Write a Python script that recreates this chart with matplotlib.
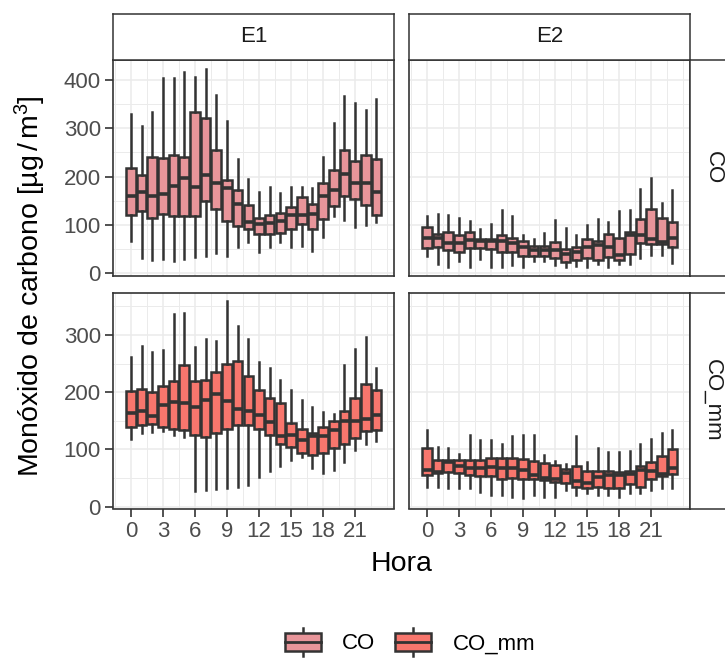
import numpy as np
import matplotlib
matplotlib.use("Agg")
import matplotlib.pyplot as plt
from matplotlib.patches import Patch, Rectangle
from matplotlib.lines import Line2D
from matplotlib.legend_handler import HandlerBase
from matplotlib.ticker import FixedLocator, MultipleLocator

plt.rcParams['font.family'] = ['Liberation Sans', 'DejaVu Sans']
plt.rcParams['mathtext.fontset'] = 'custom'
plt.rcParams['mathtext.rm'] = 'Liberation Sans'
plt.rcParams['mathtext.it'] = 'Liberation Sans:italic'

horas = np.arange(24)
estaciones = ['E1', 'E2']
variables = ['CO', 'CO_mm']
colores = {'CO': '#E8959A', 'CO_mm': '#F8766D'}
BORDE = '#333333'
LW = 1.8

# --- CO, estación E1 (bigotes, cuartiles y mediana por hora) ---
e1_co_min = [66, 31, 26, 28, 24, 29, 33, 35, 41, 35, 54, 63, 43, 54, 63, 54, 56, 45, 74, 118, 109, 95, 100, 106]
e1_co_q1 = [120, 128, 114, 122, 118, 118, 118, 149, 132, 108, 97, 92, 81, 81, 83, 90, 102, 90, 111, 138, 159, 153, 141, 121]
e1_co_med = [160, 168, 160, 163, 181, 196, 179, 203, 187, 177, 142, 106, 102, 104, 108, 121, 121, 122, 160, 173, 205, 186, 187, 167]
e1_co_q3 = [217, 203, 240, 239, 244, 241, 335, 321, 256, 193, 172, 141, 114, 120, 125, 137, 158, 142, 186, 214, 255, 233, 245, 236]
e1_co_max = [330, 305, 335, 404, 404, 417, 406, 424, 370, 315, 237, 195, 167, 179, 165, 179, 179, 177, 240, 311, 367, 353, 339, 361]

# --- CO, estación E2 ---
e2_co_min = [35, 19, 13, 24, 13, 29, 13, 13, 17, 12, 24, 24, 17, 13, 15, 13, 19, 13, 19, 19, 31, 36, 36, 20]
e2_co_q1 = [51, 54, 47, 43, 51, 52, 50, 43, 43, 34, 35, 35, 31, 22, 26, 31, 26, 33, 27, 40, 61, 59, 59, 54]
e2_co_med = [72, 72, 62, 62, 69, 66, 67, 67, 61, 54, 48, 48, 48, 40, 43, 54, 57, 54, 38, 79, 79, 71, 65, 72]
e2_co_q3 = [95, 81, 85, 79, 85, 70, 70, 79, 72, 66, 56, 56, 63, 50, 54, 70, 67, 81, 73, 85, 111, 132, 114, 106]
e2_co_max = [118, 123, 120, 114, 107, 90, 102, 130, 118, 79, 71, 83, 109, 93, 78, 100, 111, 106, 129, 130, 175, 196, 146, 173]

# --- CO_mm, estación E1 ---
e1_mm_min = [118, 129, 130, 132, 126, 122, 28, 30, 31, 32, 35, 38, 52, 62, 71, 81, 87, 67, 59, 65, 78, 99, 109, 114]
e1_mm_q1 = [139, 143, 145, 139, 135, 134, 125, 122, 128, 136, 143, 143, 136, 125, 110, 104, 93, 91, 93, 103, 110, 120, 132, 134]
e1_mm_med = [163, 167, 159, 177, 183, 181, 174, 187, 197, 185, 171, 168, 161, 148, 123, 125, 117, 124, 123, 134, 149, 150, 153, 161]
e1_mm_q3 = [202, 206, 200, 210, 219, 248, 220, 222, 235, 250, 255, 229, 203, 190, 182, 146, 136, 129, 139, 149, 168, 190, 214, 203]
e1_mm_max = [261, 281, 271, 274, 337, 339, 279, 293, 290, 359, 315, 293, 253, 243, 221, 203, 186, 175, 165, 162, 248, 275, 296, 242]

# --- CO_mm, estación E2 ---
e2_mm_min = [34, 35, 32, 32, 32, 26, 20, 20, 17, 16, 20, 17, 17, 29, 20, 24, 20, 20, 17, 24, 24, 30, 32, 33]
e2_mm_q1 = [56, 59, 60, 59, 55, 53, 53, 49, 51, 49, 49, 46, 44, 42, 35, 32, 35, 33, 33, 39, 35, 49, 53, 58]
e2_mm_med = [64, 61, 78, 72, 68, 68, 69, 68, 68, 65, 55, 51, 48, 59, 45, 41, 52, 55, 56, 58, 65, 63, 58, 68]
e2_mm_q3 = [102, 81, 81, 81, 82, 82, 85, 85, 85, 84, 80, 76, 73, 66, 72, 62, 62, 62, 61, 63, 71, 78, 89, 101]
e2_mm_max = [134, 105, 102, 92, 125, 116, 117, 110, 124, 126, 125, 90, 80, 74, 123, 78, 102, 96, 96, 97, 109, 119, 128, 134]

datos = {
    ('CO', 'E1'): (e1_co_min, e1_co_q1, e1_co_med, e1_co_q3, e1_co_max),
    ('CO', 'E2'): (e2_co_min, e2_co_q1, e2_co_med, e2_co_q3, e2_co_max),
    ('CO_mm', 'E1'): (e1_mm_min, e1_mm_q1, e1_mm_med, e1_mm_q3, e1_mm_max),
    ('CO_mm', 'E2'): (e2_mm_min, e2_mm_q1, e2_mm_med, e2_mm_q3, e2_mm_max),
}
limites_y = {'CO': (-5.6, 443), 'CO_mm': (-3, 374)}


class CajaLeyenda(HandlerBase):
    # dibuja una cajita tipo boxplot como clave de la leyenda
    def create_artists(self, legend, orig_handle, xdescent, ydescent,
                       width, height, fontsize, trans):
        x0, y0 = -xdescent, -ydescent
        xm = x0 + width / 2
        caja = Rectangle((x0, y0 + 0.18 * height), width, 0.64 * height,
                         facecolor=orig_handle.get_facecolor(), edgecolor=BORDE,
                         linewidth=LW, transform=trans)
        med = Line2D([x0, x0 + width], [y0 + 0.5 * height] * 2, color=BORDE,
                     lw=2.0, transform=trans)
        sup = Line2D([xm, xm], [y0 + 0.82 * height, y0 + height], color=BORDE,
                     lw=LW, transform=trans)
        inf = Line2D([xm, xm], [y0, y0 + 0.18 * height], color=BORDE,
                     lw=LW, transform=trans)
        return [inf, sup, caja, med]


def franja(fig, rect, texto, rot):
    sax = fig.add_axes(rect)
    sax.set_xticks([])
    sax.set_yticks([])
    sax.set_facecolor('white')
    for s in sax.spines.values():
        s.set_color(BORDE)
        s.set_linewidth(1.1)
    sax.text(0.5, 0.5, texto, rotation=rot, ha='center', va='center',
             fontsize=16, color='#1A1A1A', transform=sax.transAxes)


W, H = 725, 661
fig = plt.figure(figsize=(W / 100, H / 100), dpi=100)

izq = [113.3 / W, 409.3 / W]
ancho = 280.7 / W
arriba = [59.5, 292.5]
alto = 216 / H

for i, var in enumerate(variables):
    for j, est in enumerate(estaciones):
        ax = fig.add_axes([izq[j], 1 - (arriba[i] + 216) / H, ancho, alto])
        lo, q1, med, q3, hi = datos[(var, est)]
        stats = [dict(whislo=lo[k], q1=q1[k], med=med[k], q3=q3[k], whishi=hi[k], fliers=[])
                 for k in range(len(horas))]
        ax.bxp(stats, positions=horas, widths=0.9, patch_artist=True,
               showcaps=False, showfliers=False, manage_ticks=False,
               boxprops=dict(facecolor=colores[var], edgecolor=BORDE, linewidth=LW),
               whiskerprops=dict(color=BORDE, linewidth=LW),
               medianprops=dict(color=BORDE, linewidth=2.6, solid_capstyle='butt'))

        ax.set_xlim(-1.645, 24.645)
        ax.set_ylim(*limites_y[var])
        ax.xaxis.set_major_locator(FixedLocator(range(0, 22, 3)))
        ax.xaxis.set_minor_locator(MultipleLocator(1.5))
        ax.yaxis.set_major_locator(MultipleLocator(100))
        ax.yaxis.set_minor_locator(MultipleLocator(50))
        ax.set_axisbelow(True)
        ax.grid(which='major', color='#EBEBEB', linewidth=1.1)
        ax.grid(which='minor', color='#EBEBEB', linewidth=0.7)
        for s in ax.spines.values():
            s.set_color(BORDE)
            s.set_linewidth(1.2)
        ax.tick_params(which='minor', length=0)
        ax.tick_params(which='major', length=6, width=1.2, color=BORDE,
                       labelsize=16, labelcolor='#4D4D4D', pad=3)
        if j == 1:
            ax.tick_params(left=False, labelleft=False)
        if i == 0:
            ax.tick_params(bottom=False, labelbottom=False)

        if i == 0:
            franja(fig, [izq[j], 1 - 59.5 / H, ancho, 45.5 / H], est, 0)
        if j == 1:
            franja(fig, [izq[j] + ancho, 1 - (arriba[i] + 216) / H, 46 / W, alto], var, -90)

fig.text(30 / W, 1 - 286 / H, 'Monóxido de carbono [µg$\\,$/$\\,$m$^{\\mathregular{3}}$]',
         rotation=90, ha='center', va='center', fontsize=20.5)
fig.text(401.6 / W, 1 - 564 / H, 'Hora', ha='center', va='center', fontsize=20.5)

claves = [Patch(facecolor=colores[v]) for v in variables]
fig.legend(claves, variables, loc='center', bbox_to_anchor=(410 / W, 1 - 642 / H),
           ncol=2, frameon=False, fontsize=16, handler_map={Patch: CajaLeyenda()},
           handlelength=1.62, handleheight=1.53, handletextpad=0.95,
           columnspacing=0.9, borderpad=0)

fig.savefig('out.png', dpi=100)
